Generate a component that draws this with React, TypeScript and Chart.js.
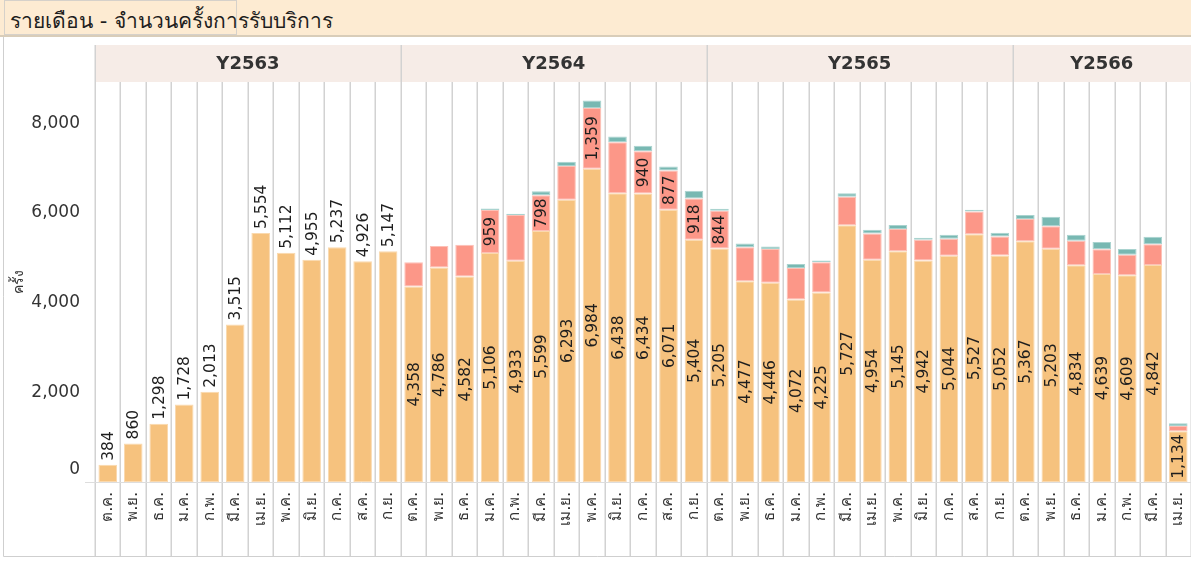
import React, { useEffect, useRef } from 'react';
import { Chart, registerables } from 'chart.js';

Chart.register(...registerables);

const FONT = '"DejaVu Sans", Tahoma, "Noto Sans", sans-serif';

const MONTHS = ['ต.ค.', 'พ.ย.', 'ธ.ค.', 'ม.ค.', 'ก.พ.', 'มี.ค.', 'เม.ย.', 'พ.ค.', 'มิ.ย.', 'ก.ค.', 'ส.ค.', 'ก.ย.'];
const YEARS = ['Y2563', 'Y2564', 'Y2565', 'Y2566'];
const YEAR_COUNTS = [12, 12, 12, 7];
const CATEGORIES = YEARS.flatMap((_, i) => MONTHS.slice(0, YEAR_COUNTS[i]));

// orange segment (labelled)
const SERIES_A = [
  384, 860, 1298, 1728, 2013, 3515, 5554, 5112, 4955, 5237, 4926, 5147,
  4358, 4786, 4582, 5106, 4933, 5599, 6293, 6984, 6438, 6434, 6071, 5404,
  5205, 4477, 4446, 4072, 4225, 5727, 4954, 5145, 4942, 5044, 5527, 5052,
  5367, 5203, 4834, 4639, 4609, 4842, 1134,
];
// salmon segment
const SERIES_B = [
  0, 0, 0, 0, 0, 0, 0, 0, 0, 0, 0, 0,
  544, 477, 708, 959, 1020, 798, 752, 1359, 1140, 940, 877, 918,
  844, 760, 752, 700, 678, 633, 588, 499, 462, 380, 507, 425,
  499, 499, 544, 551, 462, 462, 114,
];
// teal segment
const SERIES_C = [
  0, 0, 0, 0, 0, 0, 0, 0, 0, 0, 0, 0,
  0, 0, 0, 37, 30, 89, 97, 164, 127, 127, 89, 171,
  45, 82, 52, 89, 37, 82, 82, 89, 45, 89, 37, 82,
  89, 216, 134, 164, 127, 164, 61,
];
// salmon segments whose value label is visible
const SERIES_B_LABELLED = [15, 17, 19, 21, 22, 23, 24];
const Y_TICKS = [0, 2000, 4000, 6000, 8000];
const Y_MAX = 8921;

const COLORS = ['#F6C27E', '#FC9788', '#78B8B2'];
const BORDERS = ['#FAD9AE', '#FDC0B6', '#A9D3CF'];

const fmt = (v: number) => v.toLocaleString('en-US');

const decorPlugin = {
  id: 'decor',
  beforeDraw(chart: any) {
    const { ctx, chartArea: a, width, height } = chart;
    ctx.save();
    ctx.fillStyle = '#ffffff';
    ctx.fillRect(0, 0, width, height);
    const bandTop = a.top - 37;
    ctx.fillStyle = '#F6ECE7';
    ctx.fillRect(a.left, bandTop, a.right - a.left, a.top - bandTop);
    ctx.restore();
  },
  beforeDatasetsDraw(chart: any) {
    const { ctx, chartArea: a, height, scales } = chart;
    const x = scales.x;
    const bandTop = a.top - 37;
    ctx.save();
    ctx.strokeStyle = '#D2D2D2';
    ctx.lineWidth = 1.5;
    for (let i = 0; i <= CATEGORIES.length; i++) {
      const px = Math.round(x.getPixelForValue(i - 0.5)) + 0.25;
      ctx.beginPath();
      ctx.moveTo(px, a.top);
      ctx.lineTo(px, height - 2);
      ctx.stroke();
    }
    let start = 0;
    ctx.fillStyle = '#333';
    ctx.font = `bold 18px ${FONT}`;
    ctx.textAlign = 'center';
    ctx.textBaseline = 'middle';
    YEARS.forEach((y, i) => {
      const end = start + YEAR_COUNTS[i];
      const x0 = x.getPixelForValue(start - 0.5);
      const x1 = Math.min(x.getPixelForValue(end - 0.5), a.right);
      ctx.beginPath();
      ctx.moveTo(Math.round(x0) + 0.25, bandTop);
      ctx.lineTo(Math.round(x0) + 0.25, a.top);
      ctx.stroke();
      ctx.fillText(y, (x0 + x1) / 2, (bandTop + a.top) / 2 + 1);
      start = end;
    });
    ctx.strokeStyle = '#DDDDDD';
    ctx.lineWidth = 1;
    const y0 = Math.round(scales.y.getPixelForValue(0)) + 0.5;
    ctx.beginPath();
    ctx.moveTo(a.left - 10, y0);
    ctx.lineTo(a.right, y0);
    ctx.stroke();
    ctx.fillStyle = '#333';
    ctx.font = `17px ${FONT}`;
    ctx.textAlign = 'right';
    Y_TICKS.forEach((v) => {
      let py = scales.y.getPixelForValue(v);
      if (py > a.bottom - 10) py = a.bottom - 12;
      ctx.fillText(fmt(v), a.left - 15, py);
    });
    ctx.strokeStyle = '#CFCFCF';
    ctx.lineWidth = 1;
    ctx.beginPath();
    ctx.moveTo(3.5, 0);
    ctx.lineTo(3.5, height - 1.5);
    ctx.lineTo(chart.width, height - 1.5);
    ctx.stroke();
    ctx.restore();
  },
  afterDatasetsDraw(chart: any) {
    const { ctx } = chart;
    ctx.save();
    ctx.fillStyle = '#1e1e1e';
    ctx.font = `15.5px ${FONT}`;
    ctx.textBaseline = 'middle';
    const drawRot = (text: string, x: number, y: number, align: CanvasTextAlign) => {
      ctx.save();
      ctx.translate(x, y);
      ctx.rotate(-Math.PI / 2);
      ctx.textAlign = align;
      ctx.fillText(text, 0, 1);
      ctx.restore();
    };
    const metaA = chart.getDatasetMeta(0);
    metaA.data.forEach((el: any, i: number) => {
      const v = SERIES_A[i];
      if (SERIES_B[i] + SERIES_C[i] === 0) {
        drawRot(fmt(v), el.x, el.y - 4, 'left');
      } else {
        drawRot(fmt(v), el.x, (el.y + el.base) / 2, 'center');
      }
    });
    const metaB = chart.getDatasetMeta(1);
    SERIES_B_LABELLED.forEach((i) => {
      const el = metaB.data[i];
      drawRot(fmt(SERIES_B[i]), el.x, (el.y + el.base) / 2, 'center');
    });
    ctx.restore();
  },
};

export default function App() {
  const ref = useRef<HTMLCanvasElement | null>(null);

  useEffect(() => {
    document.body.style.margin = '0';
    const canvas = ref.current;
    if (!canvas) return;
    const mk = (label: string, data: number[], idx: number) => ({
      label,
      data,
      backgroundColor: COLORS[idx],
      borderColor: BORDERS[idx],
      borderWidth: 1,
      borderSkipped: false,
      barPercentage: 0.73,
      categoryPercentage: 1,
    });
    const chart = new Chart(canvas, {
      type: 'bar',
      data: {
        labels: CATEGORIES,
        datasets: [
          mk('กลุ่ม 1', SERIES_A, 0),
          mk('กลุ่ม 2', SERIES_B, 1),
          mk('กลุ่ม 3', SERIES_C, 2),
        ],
      },
      options: {
        animation: false,
        responsive: false,
        devicePixelRatio: 1,
        layout: { padding: { top: 45, left: 0, right: 0, bottom: 0 } },
        plugins: { legend: { display: false }, tooltip: { enabled: false } },
        scales: {
          x: {
            stacked: true,
            grid: { display: false, drawTicks: false, tickLength: 0 },
            border: { display: false },
            ticks: {
              autoSkip: false,
              minRotation: 90,
              maxRotation: 90,
              padding: 10,
              color: '#333',
              font: { size: 15, family: FONT },
            },
            afterFit: (s: any) => {
              s.height = 76;
              s.paddingLeft = 0;
              s.paddingRight = 0;
            },
          },
          y: {
            stacked: true,
            min: 0,
            max: Y_MAX,
            grid: { color: '#EFEFEF', drawTicks: false, lineWidth: 1 },
            border: { display: false },
            ticks: { display: false, stepSize: 2000 },
            afterBuildTicks: (s: any) => {
              s.ticks = s.ticks.filter((t: any) => t.value % 2000 === 0 && t.value > 0);
            },
            title: {
              display: true,
              text: 'ครั้ง',
              color: '#333',
              font: { size: 14, family: FONT },
              padding: { top: 11, bottom: 0 },
            },
            afterFit: (s: any) => {
              s.width = 95;
              s.paddingTop = 0;
              s.paddingBottom = 0;
            },
          },
        },
      },
      plugins: [decorPlugin],
    });
    return () => chart.destroy();
  }, []);

  return (
    <div style={{ position: 'relative', width: 1191, height: 561, overflow: 'hidden', background: '#fff', fontFamily: FONT }}>
      <div
        style={{
          position: 'absolute', left: 0, top: 0, width: 1191, height: 35,
          background: '#FDEBD2', borderBottom: '2px solid #D9CDB9',
        }}
      >
        <div style={{ position: 'absolute', left: 4, top: 0, width: 231, height: 33, border: '1px solid #D6D1CA' }} />
        <span style={{ position: 'absolute', left: 10, top: 4, fontSize: 21, color: '#1e1e1e', whiteSpace: 'nowrap' }}>
          รายเดือน - จำนวนครั้งการรับบริการ
        </span>
      </div>
      <canvas ref={ref} width={1191} height={521} style={{ position: 'absolute', left: 0, top: 37, display: 'block' }} />
    </div>
  );
}
